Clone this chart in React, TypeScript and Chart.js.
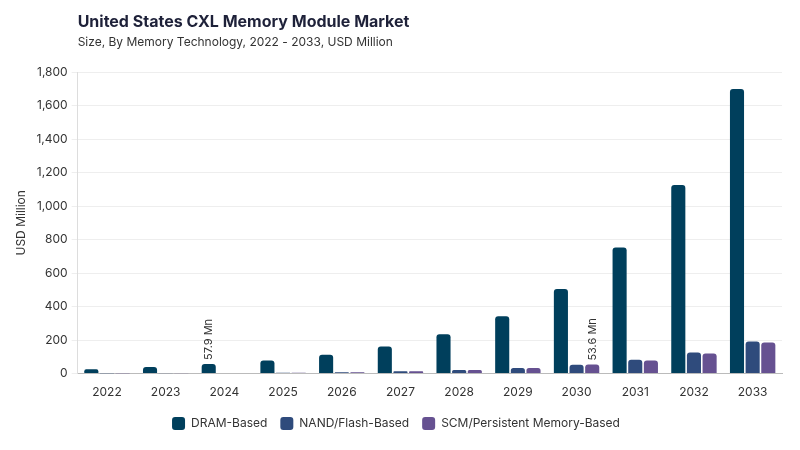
import React, { useEffect, useRef } from "react";
import { Chart, registerables } from "chart.js";

Chart.register(...registerables);

const years = ["2022", "2023", "2024", "2025", "2026", "2027", "2028", "2029", "2030", "2031", "2032", "2033"];
const dram = [26, 40, 57.9, 78, 112, 161, 235, 343, 505, 752, 1126, 1698];
const nand = [0.8, 1.8, 3.2, 5, 8, 14, 22, 34, 53, 82, 126, 191];
const scm = [0.7, 1.6, 3, 4.8, 7.6, 13.5, 21.5, 33, 53.6, 78, 120, 185];
const yTicks = [0, 200, 400, 600, 800, 1000, 1200, 1400, 1600, 1800];
const titleText = "United States CXL Memory Module Market";
const subtitleText = "Size, By Memory Technology, 2022 - 2033, USD Million";
// [datasetIndex, categoryIndex, label]
const annotations: [number, number, string][] = [
  [0, 2, "57.9 Mn"],
  [2, 8, "53.6 Mn"],
];

const FONT = "Inter, 'DejaVu Sans', sans-serif";

export default function App() {
  const ref = useRef<HTMLCanvasElement>(null);
  useEffect(() => {
    if (!ref.current) return;
    const headerPlugin = {
      id: "header",
      afterDraw(chart: any) {
        const ctx = chart.ctx;
        const left = chart.chartArea.left;
        ctx.save();
        ctx.textAlign = "left";
        ctx.textBaseline = "alphabetic";
        ctx.fillStyle = "#1e2139";
        ctx.font = `bold 16px ${FONT}`;
        ctx.fillText(titleText, left, 27);
        ctx.fillStyle = "#333";
        ctx.font = `12px ${FONT}`;
        ctx.fillText(subtitleText, left, 46);
        // rotated value labels
        ctx.font = `11px ${FONT}`;
        ctx.fillStyle = "#333";
        for (const [ds, idx, txt] of annotations) {
          const el = chart.getDatasetMeta(ds).data[idx];
          if (!el) continue;
          ctx.save();
          ctx.translate(el.x, el.y - 4);
          ctx.rotate(-Math.PI / 2);
          ctx.textAlign = "left";
          ctx.textBaseline = "middle";
          ctx.fillText(txt, 0, 0);
          ctx.restore();
        }
        ctx.restore();
      },
    };
    const chart = new Chart(ref.current, {
      type: "bar",
      data: {
        labels: years,
        datasets: [
          { label: "DRAM-Based", data: dram, backgroundColor: "#003f5c", borderRadius: 3 },
          { label: "NAND/Flash-Based", data: nand, backgroundColor: "#2f4b7c", borderRadius: 3 },
          { label: "SCM/Persistent Memory-Based", data: scm, backgroundColor: "#665191", borderRadius: 3 },
        ],
      },
      options: {
        animation: false,
        responsive: false,
        layout: { padding: { top: 72, right: 18, left: 10, bottom: 10 } },
        datasets: { bar: { categoryPercentage: 0.8, barPercentage: 0.9 } },
        plugins: {
          legend: {
            position: "bottom",
            labels: {
              font: { family: FONT, size: 12 },
              color: "#333",
              boxWidth: 13,
              boxHeight: 13,
              useBorderRadius: true,
              borderRadius: 3,
              padding: 13,
            },
          },
          tooltip: { enabled: false },
        },
        scales: {
          x: {
            grid: { display: false },
            border: { color: "#bbb" },
            ticks: { font: { family: FONT, size: 12 }, color: "#333", padding: 4 },
          },
          y: {
            min: 0,
            max: 1800,
            afterBuildTicks(axis: any) {
              axis.ticks = yTicks.map((v) => ({ value: v }));
            },
            grid: { color: "#eeeeee", drawTicks: true, tickLength: 6 },
            border: { color: "#dddddd" },
            ticks: {
              font: { family: FONT, size: 12 },
              color: "#333",
              padding: 4,
              callback: (v: any) => Number(v).toLocaleString("en-US"),
            },
            title: {
              display: true,
              text: "USD Million",
              font: { family: FONT, size: 12 },
              color: "#333",
            },
          },
        },
      },
      plugins: [headerPlugin],
    });
    return () => chart.destroy();
  }, []);
  return (
    <div style={{ position: "absolute", left: 0, top: 0, width: 800, height: 450, background: "#fff" }}>
      <canvas ref={ref} width={800} height={450} />
    </div>
  );
}
